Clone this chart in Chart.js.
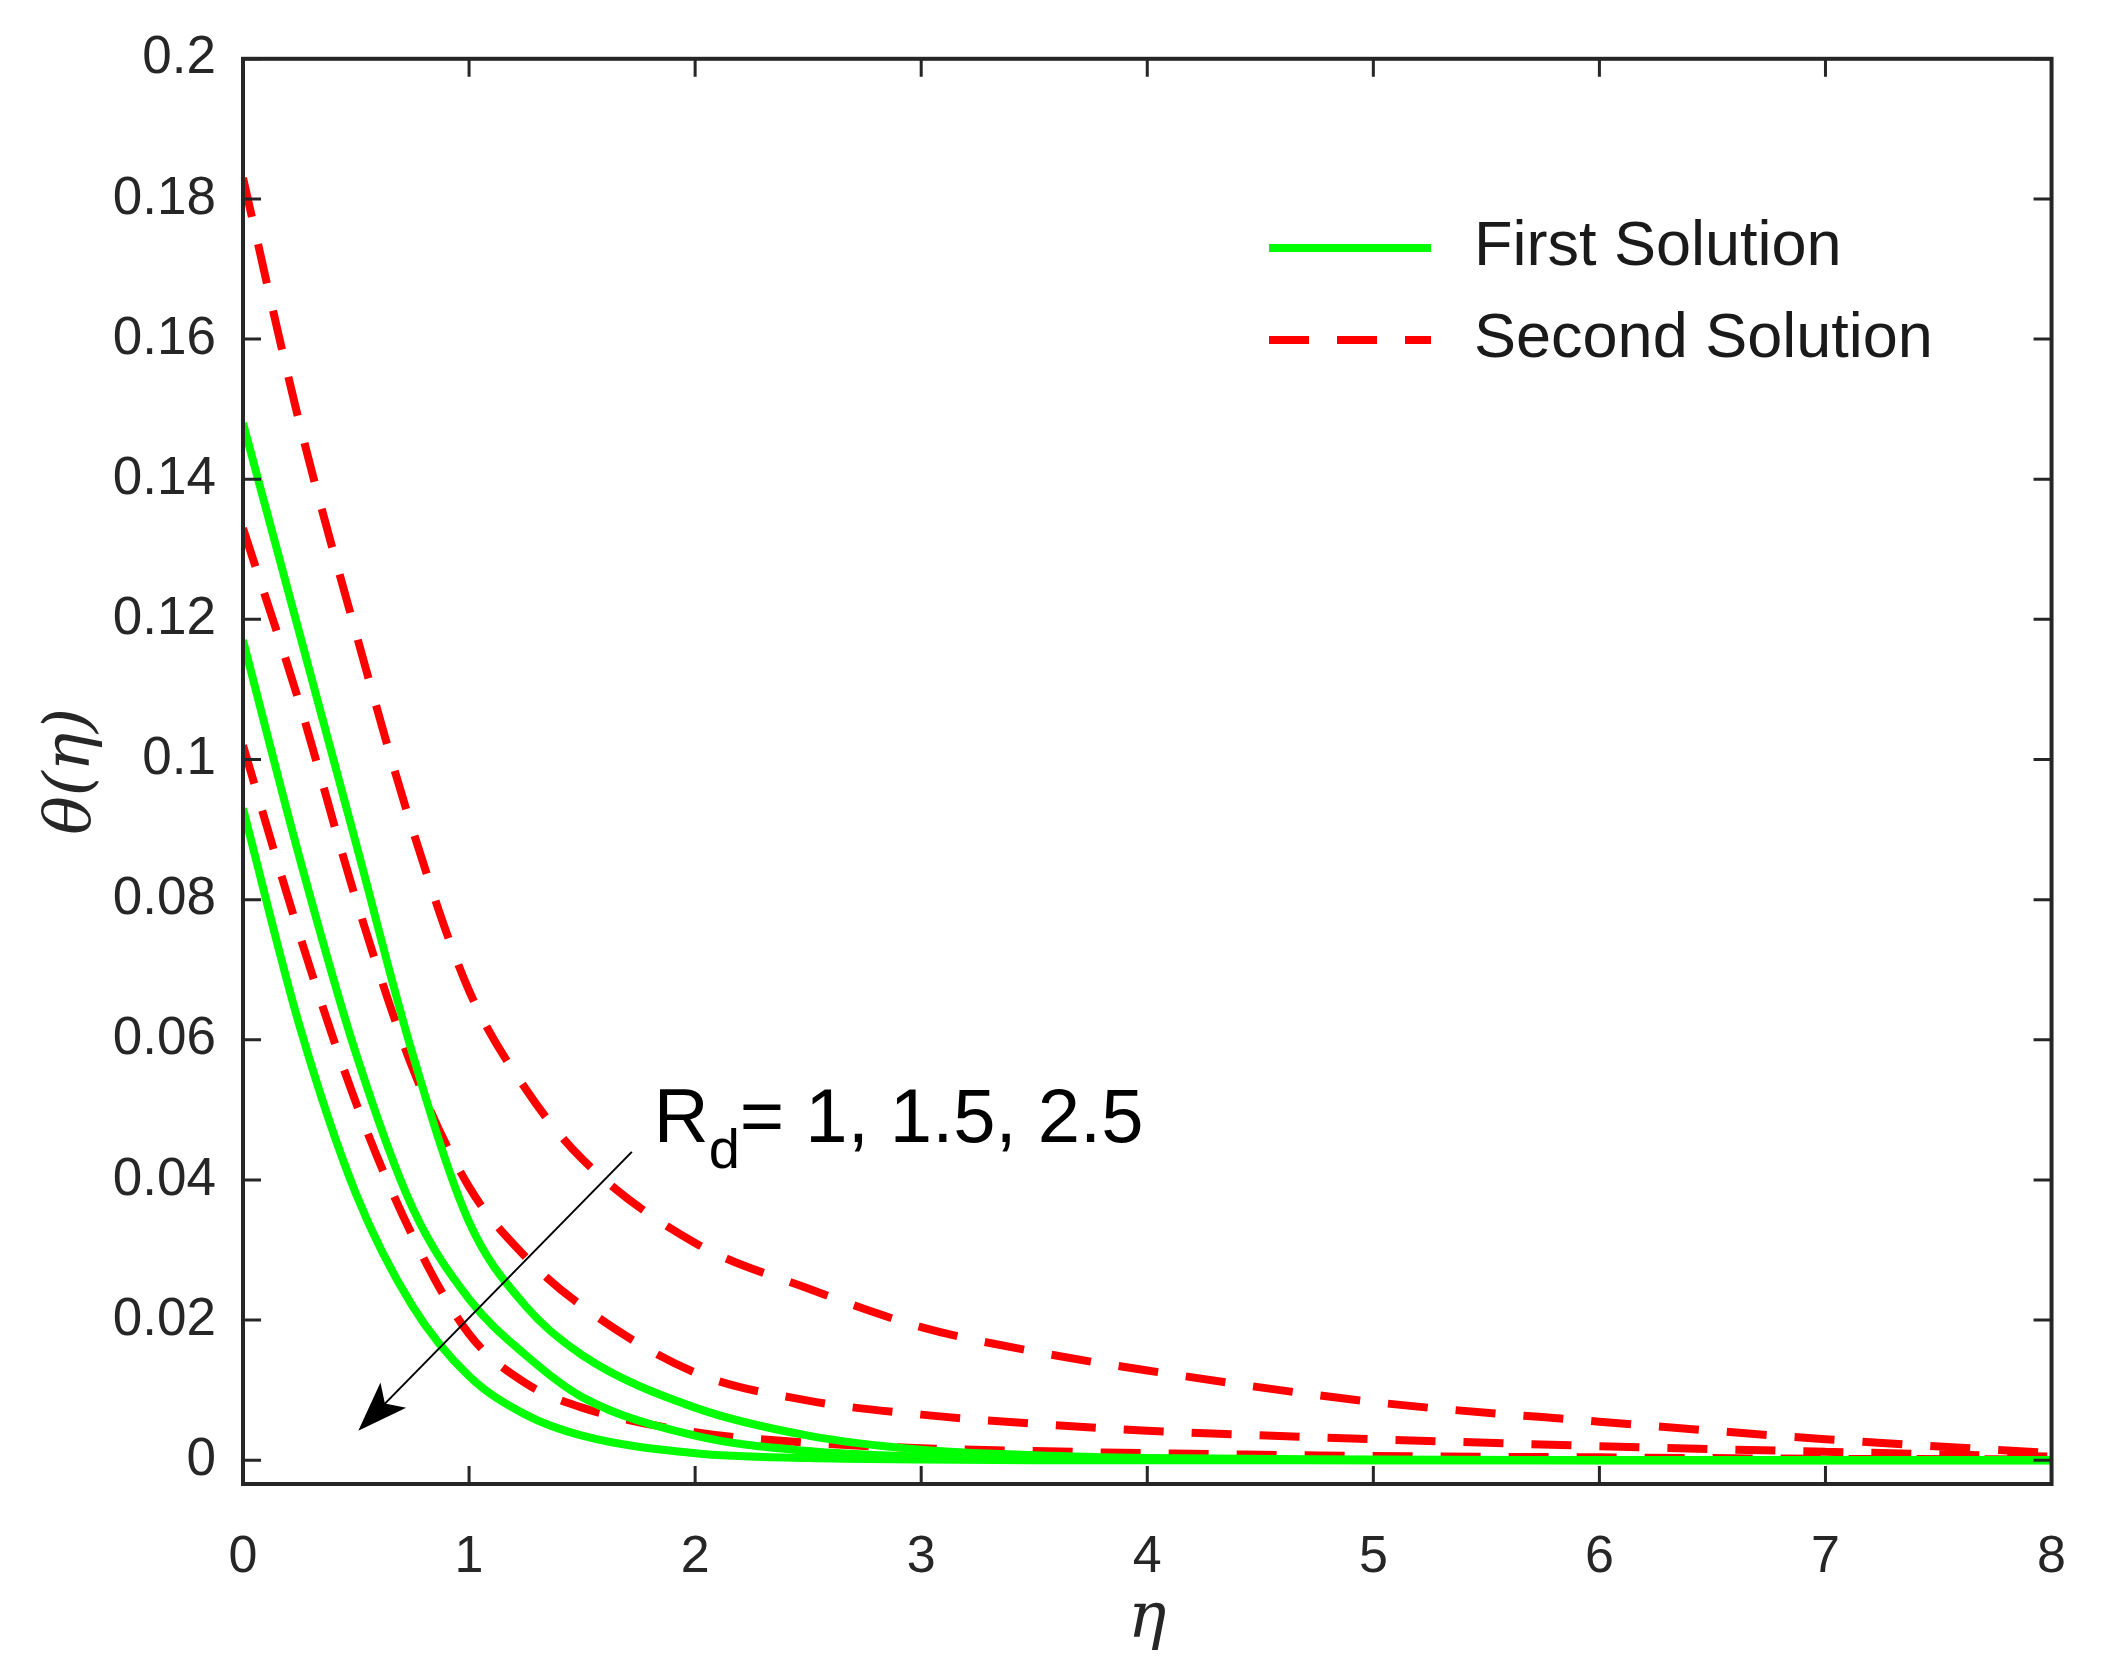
<!DOCTYPE html>
<html><head><meta charset="utf-8">
<script src="https://cdn.jsdelivr.net/npm/chart.js@4/dist/chart.umd.min.js"></script>
<style>html,body{margin:0;padding:0;background:#fff}#w{width:2108px;height:1676px}</style>
</head><body><div id="w"><canvas id="c"></canvas></div>
<script>
const eta = [0,0.25,0.5,0.75,1,1.25,1.5,2,2.5,3,3.5,4,5,6,7,8];
const first1 = [0.148,0.118,0.088,0.058,0.034,0.022,0.015,0.0075,0.0035,0.0015,0.0007,0.0003,0.0001,0,0,0];
const first2 = [0.117,0.086,0.058,0.036,0.023,0.015,0.009,0.0035,0.0013,0.0005,0.0002,0.0001,0,0,0,0];
const first3 = [0.093,0.062,0.038,0.022,0.012,0.0065,0.0035,0.001,0.0003,0.0001,0,0,0,0,0,0];
const second1 = [0.183,0.148,0.118,0.090,0.067,0.053,0.043,0.031,0.0245,0.019,0.0155,0.0128,0.0083,0.0055,0.003,0.001];
const second2 = [0.133,0.108,0.080,0.056,0.039,0.029,0.022,0.0125,0.0085,0.0065,0.0052,0.0042,0.003,0.002,0.0012,0.0005];
const second3 = [0.102,0.075,0.051,0.032,0.018,0.011,0.0075,0.004,0.0025,0.0017,0.0013,0.001,0.0006,0.0004,0.0002,0.0001];
const xTicks = [0,1,2,3,4,5,6,7,8];
const yTicks = [0,0.02,0.04,0.06,0.08,0.1,0.12,0.14,0.16,0.18,0.2];
const arrowFrom = {x:1.72, y:0.044};
const arrowTo = {x:0.51, y:0.0042};

const pts = a => eta.map((x,i)=>({x, y:a[i]}));
const G='#00ff00', R='#ff0000';
const mk = (label,a,col,dash) => ({label, data:pts(a), borderColor:col, backgroundColor:col, borderWidth:8, borderDash:dash, pointRadius:0, cubicInterpolationMode:'monotone', fill:false});
const datasets = [
  mk('First Solution',first1,G,[]),
  mk('Second Solution',second1,R,[40,28]),
  mk('f2',first2,G,[]),
  mk('f3',first3,G,[]),
  mk('s2',second2,R,[40,28]),
  mk('s3',second3,R,[40,28])
];

const deco = {
  id:'deco',
  afterDraw(ch){
    const c=ch.ctx, a=ch.chartArea, xs=ch.scales.x, ys=ch.scales.y;
    c.save();
    c.strokeStyle='#262626'; c.lineWidth=4;
    c.strokeRect(a.left,a.top,a.right-a.left,a.bottom-a.top);
    c.lineWidth=3;
    xTicks.forEach(t=>{const p=xs.getPixelForValue(t);c.beginPath();c.moveTo(p,a.bottom);c.lineTo(p,a.bottom-18);c.moveTo(p,a.top);c.lineTo(p,a.top+18);c.stroke();});
    yTicks.forEach(t=>{const p=ys.getPixelForValue(t);c.beginPath();c.moveTo(a.left,p);c.lineTo(a.left+18,p);c.moveTo(a.right,p);c.lineTo(a.right-18,p);c.stroke();});
    const x1=xs.getPixelForValue(arrowFrom.x), y1=ys.getPixelForValue(arrowFrom.y);
    const x2=xs.getPixelForValue(arrowTo.x), y2=ys.getPixelForValue(arrowTo.y);
    const ang=Math.atan2(y2-y1,x2-x1);
    c.strokeStyle='#000'; c.lineWidth=2;
    c.beginPath(); c.moveTo(x1,y1); c.lineTo(x2-30*Math.cos(ang),y2-30*Math.sin(ang)); c.stroke();
    c.fillStyle='#000'; c.beginPath();
    c.moveTo(x2,y2);
    c.lineTo(x2-50*Math.cos(ang)+18*Math.sin(ang), y2-50*Math.sin(ang)-18*Math.cos(ang));
    c.lineTo(x2-38*Math.cos(ang), y2-38*Math.sin(ang));
    c.lineTo(x2-50*Math.cos(ang)-18*Math.sin(ang), y2-50*Math.sin(ang)+18*Math.cos(ang));
    c.closePath(); c.fill();
    c.fillStyle='#000'; c.textBaseline='alphabetic';
    c.font='76px Arial, "Liberation Sans", sans-serif';
    const tx=x1+22, ty=y1-10;
    c.fillText('R',tx,ty);
    const w=c.measureText('R').width;
    c.font='56px Arial, "Liberation Sans", sans-serif';
    c.fillText('d',tx+w,ty+26);
    const wd=c.measureText('d').width;
    c.font='76px Arial, "Liberation Sans", sans-serif';
    c.fillText('= 1, 1.5, 2.5',tx+w+wd,ty);
    c.font='63px Arial, "Liberation Sans", sans-serif'; c.textBaseline='middle';
    [[G,[],'First Solution',248],[R,[40,28],'Second Solution',340]].forEach(([col,d,t,y])=>{
      c.strokeStyle=col; c.lineWidth=8; c.setLineDash(d);
      c.beginPath(); c.moveTo(1269,y); c.lineTo(1431,y); c.stroke(); c.setLineDash([]);
      c.fillStyle='#1a1a1a'; c.fillText(t,1474,y);
    });
    c.fillStyle='#262626';
    c.font='italic 64px "DejaVu Serif", "Liberation Serif", serif'; c.textAlign='center';
    c.fillText('η', (a.left+a.right)/2, 1620);
    c.translate(72,(a.top+a.bottom)/2); c.rotate(-Math.PI/2);
    c.fillText('θ(η)',0,0);
    c.restore();
  }
};

new Chart(document.getElementById('c'),{
  type:'line',
  data:{datasets},
  options:{
    responsive:true, maintainAspectRatio:false, animation:false,
    layout:{padding:{top:42,right:44,left:0,bottom:0}},
    plugins:{legend:{display:false},tooltip:{enabled:false}},
    scales:{
      x:{type:'linear',min:0,max:8,
        afterBuildTicks:s=>{s.ticks=xTicks.map(v=>({value:v}));},
        afterFit:s=>{s.height=192;},
        grid:{display:false,drawTicks:false}, border:{display:false},
        ticks:{padding:42,color:'#262626',font:{size:52,family:'Arial, "Liberation Sans", sans-serif'},callback:v=>String(v)}},
      y:{type:'linear',min:-0.0034,max:0.2,
        afterBuildTicks:s=>{s.ticks=yTicks.map(v=>({value:v}));},
        afterFit:s=>{s.width=243;},
        grid:{display:false,drawTicks:false}, border:{display:false},
        ticks:{padding:27,color:'#262626',font:{size:53,family:'Arial, "Liberation Sans", sans-serif'},callback:v=>String(+v.toFixed(2))}}
    }
  },
  plugins:[deco]
});
</script></body></html>
